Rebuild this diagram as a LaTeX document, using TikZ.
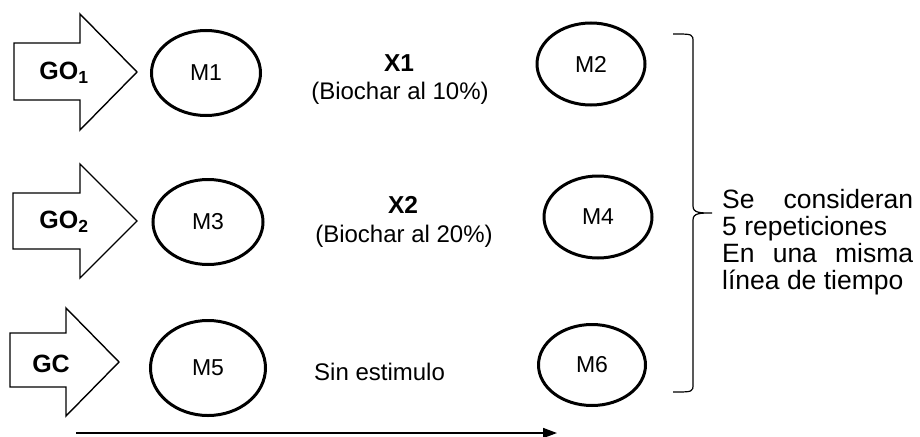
\documentclass[tikz,border=0pt]{standalone}
\usepackage{fontspec}
\setmainfont{Liberation Sans}
\usetikzlibrary{shapes.geometric,arrows.meta}
\begin{document}
\begin{tikzpicture}[x=1pt,y=-1pt,
  mell/.style={draw,ellipse,line width=3pt,inner sep=0pt,font=\fontsize{23}{27}\selectfont},
  bigarrow/.style={draw,line width=1.4pt,line join=miter},
  glbl/.style={inner sep=0pt,font=\fontsize{25}{29}\selectfont\bfseries},
  xlbl/.style={inner sep=0pt,anchor=base,font=\fontsize{24.5}{28}\selectfont\bfseries},
  blbl/.style={inner sep=0pt,anchor=base,font=\fontsize{24}{28}\selectfont},
  brace/.style={draw,line width=1.2pt},
  timeline/.style={draw,line width=1.6pt,-{Triangle[length=14pt,width=10pt]}}]
\useasboundingbox (0,0) rectangle (920,436);

% block arrows
\draw[bigarrow] (14,43) -- (80,43) -- (80,14) -- (137,72) -- (80,130) -- (80,100) -- (14,100) -- cycle;
\draw[bigarrow] (13,193) -- (80,193) -- (80,164) -- (137,221) -- (80,278) -- (80,249) -- (13,249) -- cycle;
\draw[bigarrow] (10,333) -- (66,333) -- (66,308) -- (119,362) -- (66,416) -- (66,387) -- (10,387) -- cycle;
\node[glbl] (go1) at (64,73) {GO\textsubscript{1}};
\node[glbl] (go2) at (64,222) {GO\textsubscript{2}};
\node[glbl] (gc) at (51,364) {GC};

% ellipses
\node[mell,minimum width=109pt,minimum height=85pt] (m1) at (206,73) {M1};
\node[mell,minimum width=110pt,minimum height=85pt] (m3) at (208,222) {M3};
\node[mell,minimum width=115pt,minimum height=95pt] (m5) at (208,368) {M5};
\node[mell,minimum width=108pt,minimum height=82pt] (m2) at (591,64) {M2};
\node[mell,minimum width=108pt,minimum height=82pt] (m4) at (598,217) {M4};
\node[mell,minimum width=107pt,minimum height=81pt] (m6) at (592,365) {M6};

% treatment labels
\node[xlbl] (x1) at (399,71) {X1};
\node[blbl] (b1) at (400,99) {(Biochar al 10\%)};
\node[xlbl] (x2) at (403,213) {X2};
\node[blbl] (b2) at (404,242) {(Biochar al 20\%)};
\node[blbl,anchor=base west] (sin) at (314,380) {Sin estimulo};

% brace
\coordinate (btop) at (673,34);
\coordinate (btip) at (712,213);
\coordinate (bbot) at (673,392);
\draw[brace] (btop) .. controls (693,34) .. (693,42) -- (693,206)
  .. controls (693,213) and (700,213) .. (btip)
  .. controls (700,213) and (693,213) .. (693,220) -- (693,384)
  .. controls (693,392) .. (bbot);

% note
\node[anchor=base west,inner sep=0pt,font=\fontsize{26.5}{27}\selectfont] (note) at (722,208)
  {\parbox[t]{191pt}{\baselineskip=27pt Se\hfill consideran\\5 repeticiones\\En\hfill una\hfill misma\\línea de tiempo}};

% time line
\coordinate (t0) at (76,433);
\coordinate (t1) at (557,433);
\draw[timeline] (t0) -- (t1);
\end{tikzpicture}
\end{document}
